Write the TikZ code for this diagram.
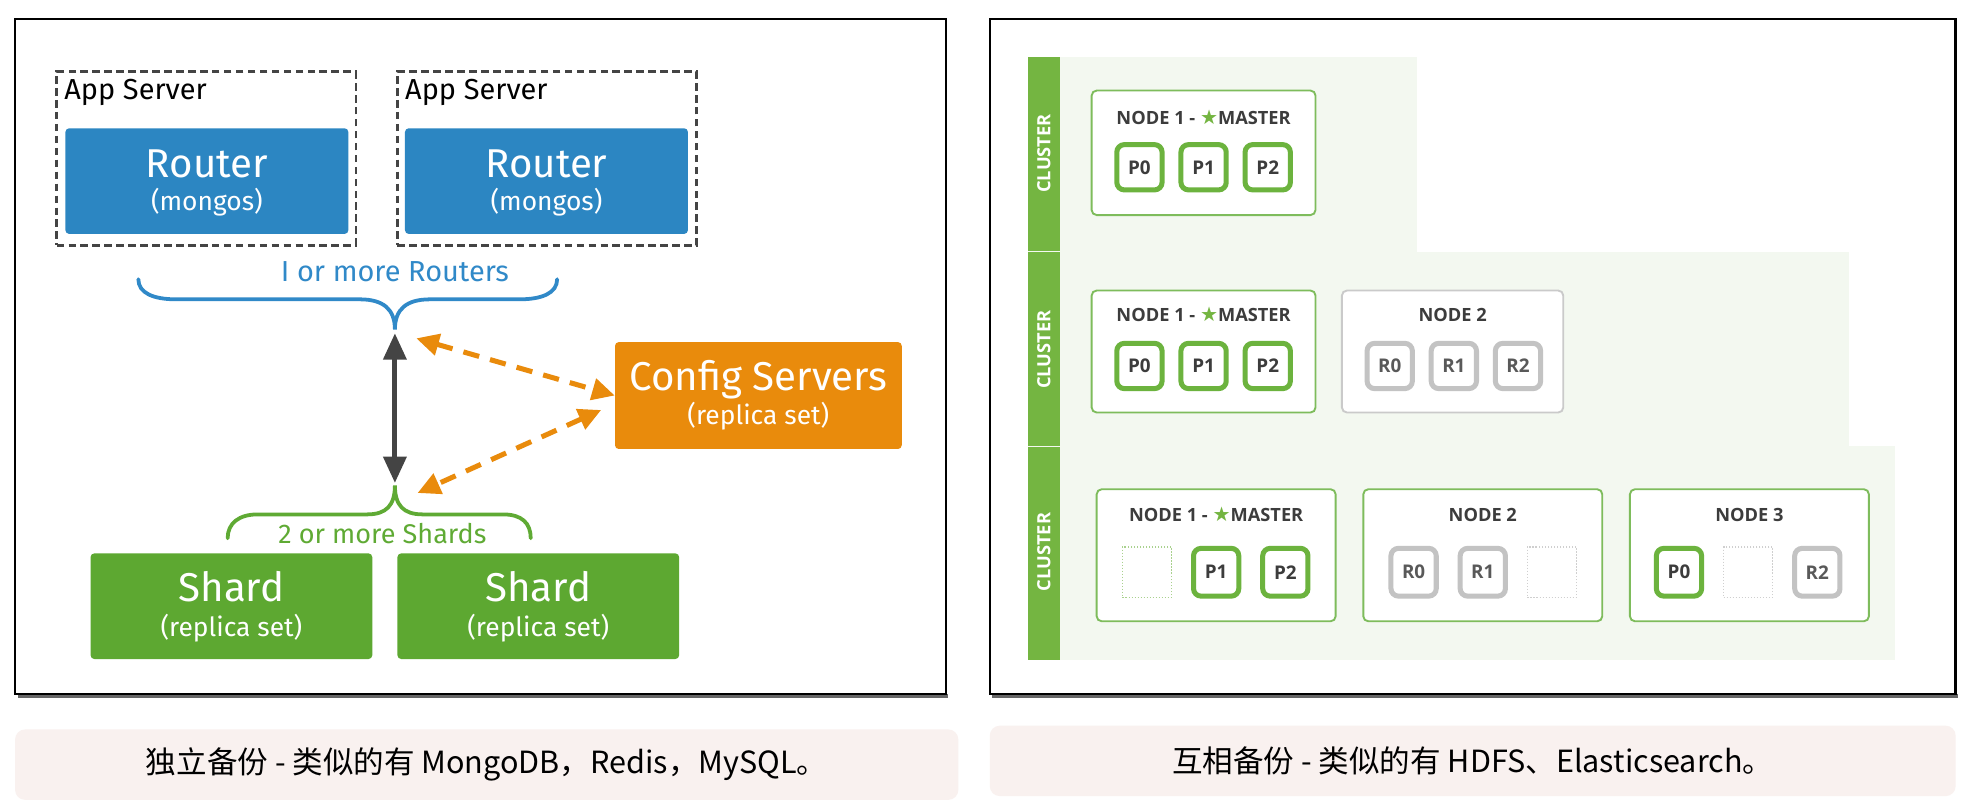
\documentclass[tikz,border=0pt]{standalone}
\usepackage{fontspec}
\setmainfont{Fira Sans}
\newfontfamily\cjk{Noto Sans CJK SC}
\newfontfamily\osans{Open Sans}
\newfontfamily\djv{DejaVu Sans}
\usetikzlibrary{arrows.meta}
\definecolor{rblue}{HTML}{2C86C2}
\definecolor{tblue}{HTML}{3089C8}
\definecolor{borange}{HTML}{E98B0C}
\definecolor{sgreen}{HTML}{5DA831}
\definecolor{tgreen}{HTML}{5FAA34}
\definecolor{darkar}{HTML}{444444}
\definecolor{side}{HTML}{74B541}
\definecolor{clbg}{HTML}{F3F8F0}
\definecolor{nodeg}{HTML}{7EBC5C}
\definecolor{shardg}{HTML}{6CB33E}
\definecolor{repg}{HTML}{C3C3C3}
\definecolor{nodegray}{HTML}{CACACA}
\definecolor{emptyg}{HTML}{A9D18E}
\definecolor{capbg}{HTML}{F9F1EF}
\definecolor{txtd}{HTML}{3C3C3C}
\begin{document}
\begin{tikzpicture}[x=1pt,y=-1pt,
  panel/.style={draw=black, line width=2pt, fill=white, inner sep=0, minimum height=537pt},
  appbox/.style={draw=darkar, line width=2pt, dash pattern=on 6pt off 3.5pt, minimum width=238pt, minimum height=138pt, inner sep=0},
  router/.style={fill=rblue, rounded corners=3pt, minimum width=225pt, minimum height=84pt, inner sep=0},
  cfgbox/.style={fill=borange, rounded corners=3pt, minimum width=228pt, minimum height=85pt, inner sep=0},
  shardbox/.style={fill=sgreen, rounded corners=3pt, minimum width=224pt, minimum height=84pt, inner sep=0},
  bigtxt/.style={text=white, font=\fontsize{32}{36}\selectfont, anchor=base, inner sep=0},
  smalltxt/.style={text=white, font=\fontsize{21}{25}\selectfont, anchor=base, inner sep=0},
  applbl/.style={text=black, font=\fontsize{23}{27}\selectfont, anchor=base west, inner sep=0},
  bracelbl/.style={font=\fontsize{23}{27}\selectfont, anchor=base, inner sep=0},
  dblarrow/.style={draw=darkar, line width=4pt, {Triangle[length=21pt,width=18pt]}-{Triangle[length=21pt,width=18pt]}},
  oarrow/.style={draw=borange, line width=4pt, dash pattern=on 13pt off 9pt, {Triangle[length=18pt,width=17pt]}-{Triangle[length=18pt,width=17pt]}},
  capbox/.style={fill=capbg, rounded corners=8pt, inner sep=0, minimum height=56pt, font=\cjk\fontsize{24.3}{28}\selectfont, text=black},
  cltxt/.style={text=white, font=\osans\bfseries\fontsize{14.5}{16}\selectfont, rotate=90, inner sep=0},
  gnode/.style={draw=nodeg, line width=1.5pt, fill=white, rounded corners=4pt, inner sep=0},
  graynode/.style={draw=nodegray, line width=1.5pt, fill=white, rounded corners=4pt, inner sep=0},
  nlbl/.style={text=txtd, font=\osans\bfseries\fontsize{14.5}{16}\selectfont, anchor=base, inner sep=0},
  pshard/.style={draw=shardg, line width=4pt, fill=white, rounded corners=6pt, minimum width=36pt, minimum height=36pt, inner sep=0, text=txtd, font=\osans\bfseries\fontsize{15}{17}\selectfont},
  rshard/.style={draw=repg, line width=4pt, fill=white, rounded corners=6pt, minimum width=36pt, minimum height=36pt, inner sep=0, text=txtd!85, font=\osans\bfseries\fontsize{15}{17}\selectfont},
  gempty/.style={draw=emptyg, line width=1pt, dash pattern=on 1.2pt off 1.2pt, minimum width=39pt, minimum height=40pt, inner sep=0},
  rempty/.style={draw=repg!80, line width=1pt, dash pattern=on 1.2pt off 1.2pt, minimum width=39pt, minimum height=40pt, inner sep=0}
]
\fill[white] (0,0) rectangle (1568,643);
\useasboundingbox (0,0) rectangle (1568,643);

% ---------------- left panel ----------------
\fill[black!60] (14,552) rectangle (754,555);
\node[panel, minimum width=740pt] (lpanel) at (382,283.5) {};

\node[appbox] (as1) at (164,126) {};
\node[appbox] (as2) at (435,126) {};
\node[applbl] (as1l) at (51,79) {App Server};
\node[applbl] (as2l) at (322,79) {App Server};
\node[router] (r1) at (164.5,144) {};
\node[router] (r2) at (434.5,144) {};
\node[bigtxt] (r1a) at (164.5,141) {Router};
\node[smalltxt] (r1b) at (164.5,167) {(mongos)};
\node[bigtxt] (r2a) at (434.5,141) {Router};
\node[smalltxt] (r2b) at (434.5,167) {(mongos)};

\node[bracelbl, text=tblue] (rlbl) at (314,224) {I or more Routers};
\draw[tblue, line width=3pt, line cap=round]
  (110,222) .. controls (110,233) and (122,238) .. (140,238) -- (286,238)
  .. controls (305,238) and (314,246) .. (314,262)
  .. controls (314,246) and (323,238) .. (342,238) -- (413,238)
  .. controls (431,238) and (443,233) .. (443,222);
\coordinate (btip) at (314,265);

\draw[tgreen, line width=3pt, line cap=round]
  (181,428) .. controls (181,416) and (190,409) .. (205,409) -- (292,409)
  .. controls (307,409) and (314,402) .. (314,386)
  .. controls (314,402) and (321,409) .. (336,409) -- (400,409)
  .. controls (415,409) and (422,416) .. (422,428);
\coordinate (gtip) at (314,384);
\node[bracelbl, text=tgreen, font=\fontsize{21.5}{26}\selectfont] (slbl) at (304,432) {2 or more Shards};

\node[cfgbox] (cfg) at (603,314.5) {};
\node[bigtxt] (cfga) at (603,310.5) {Config Servers};
\node[smalltxt] (cfgb) at (603,337.5) {(replica set)};

\node[shardbox] (s1) at (184,482) {};
\node[shardbox] (s2) at (428,482) {};
\node[bigtxt] (s1a) at (184,478.5) {Shard};
\node[smalltxt] (s1b) at (184,506) {(replica set)};
\node[bigtxt] (s2a) at (428,478.5) {Shard};
\node[smalltxt] (s2b) at (428,506) {(replica set)};

\draw[dblarrow] (btip) -- (gtip);
\coordinate (ua) at (331,269);
\coordinate (la) at (332,392);
\coordinate (cl) at (478,326);
\draw[oarrow] (ua) -- (cfg.west);
\draw[oarrow] (cl) -- (la);

% ---------------- right panel ----------------
\fill[black!60] (789,552) rectangle (1557,555);
\node[panel, minimum width=768pt] (rpanel) at (1171,283.5) {};

\fill[clbg] (817,45) rectangle (1127,200);
\fill[clbg] (817,200) rectangle (1470,355);
\fill[clbg] (817,355) rectangle (1507,525);
\fill[side] (817,45) rectangle (843,199.5);
\fill[side] (817,200.5) rectangle (843,354.5);
\fill[side] (817,355.5) rectangle (843,525);
\node[cltxt] (cl1) at (830,122) {CLUSTER};
\node[cltxt] (cl2) at (830,278) {CLUSTER};
\node[cltxt] (cl3) at (830,439) {CLUSTER};

% cluster 1
\node[gnode, minimum width=178pt, minimum height=99pt] (a1) at (957,121.5) {};
\node[nlbl] (a1l) at (957,99) {NODE 1 - {\djv\color{side}\fontsize{16}{16}\selectfont ★}MASTER};
\node[pshard] (a1p0) at (906,133) {P0};
\node[pshard] (a1p1) at (957,133) {P1};
\node[pshard] (a1p2) at (1008,133) {P2};

% cluster 2
\node[gnode, minimum width=178pt, minimum height=97pt] (b1) at (957,279.5) {};
\node[nlbl] (b1l) at (957,256) {NODE 1 - {\djv\color{side}\fontsize{16}{16}\selectfont ★}MASTER};
\node[pshard] (b1p0) at (906,291) {P0};
\node[pshard] (b1p1) at (957,291) {P1};
\node[pshard] (b1p2) at (1008,291) {P2};
\node[graynode, minimum width=176pt, minimum height=97pt] (b2) at (1155,279.5) {};
\node[nlbl] (b2l) at (1155,256) {NODE 2};
\node[rshard] (b2r0) at (1105,291) {R0};
\node[rshard] (b2r1) at (1156,291) {R1};
\node[rshard] (b2r2) at (1207,291) {R2};

% cluster 3
\node[gnode, minimum width=190pt, minimum height=105pt] (c1) at (967,441.5) {};
\node[nlbl] (c1l) at (967,415) {NODE 1 - {\djv\color{side}\fontsize{16}{16}\selectfont ★}MASTER};
\node[gempty] (c1e) at (912,455) {};
\node[pshard, minimum height=38pt] (c1p1) at (967,455) {P1};
\node[pshard, minimum height=38pt] (c1p2) at (1022,455) {P2};
\node[gnode, minimum width=190pt, minimum height=105pt] (c2) at (1179,441.5) {};
\node[nlbl] (c2l) at (1179,415) {NODE 2};
\node[rshard, minimum height=38pt] (c2r0) at (1124,455) {R0};
\node[rshard, minimum height=38pt] (c2r1) at (1179,455) {R1};
\node[rempty] (c2e) at (1234,455) {};
\node[gnode, minimum width=190pt, minimum height=105pt] (c3) at (1391,441.5) {};
\node[nlbl] (c3l) at (1391,415) {NODE 3};
\node[pshard, minimum height=38pt] (c3p0) at (1335,455) {P0};
\node[rempty] (c3e) at (1390,455) {};
\node[rshard, minimum height=38pt] (c3r2) at (1445,455) {R2};

% ---------------- captions ----------------
\node[capbox, minimum width=750pt] (lcap) at (387,608) {独立备份 - 类似的有 MongoDB，Redis，MySQL。};
\node[capbox, minimum width=768pt] (rcap) at (1171,605) {互相备份 - 类似的有 HDFS、Elasticsearch。};
\end{tikzpicture}
\end{document}
